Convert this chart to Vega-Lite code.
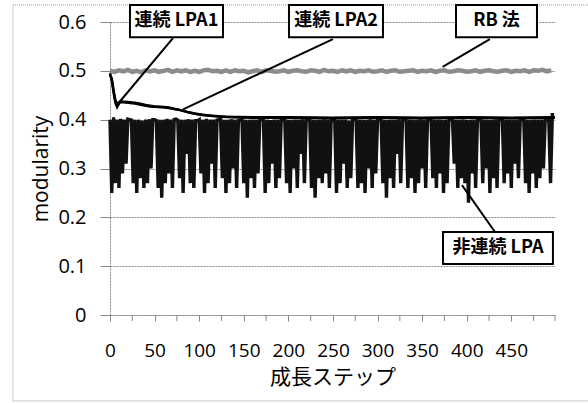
{
  "$schema": "https://vega.github.io/schema/vega-lite/v6.json",
  "width": 445,
  "height": 293,
  "autosize": "none",
  "padding": {"left": 110, "top": 22, "right": 33, "bottom": 88},
  "background": "white",
  "config": {
    "font": "Open Sans, Noto Sans CJK JP",
    "view": {"stroke": null},
    "axis": {"labelFont": "Open Sans, Noto Sans CJK JP", "titleFont": "Open Sans, Noto Sans CJK JP", "labelColor": "#000", "titleColor": "#000", "titleFontWeight": "normal"}
  },
  "datasets": {
    "rb": [
      {"s":0,"v":0.500},{"s":5,"v":0.498},{"s":10,"v":0.501},{"s":15,"v":0.499},{"s":20,"v":0.502},{"s":25,"v":0.498},{"s":30,"v":0.500},{"s":35,"v":0.497},{"s":40,"v":0.501},{"s":45,"v":0.499},
      {"s":50,"v":0.501},{"s":55,"v":0.498},{"s":60,"v":0.500},{"s":65,"v":0.502},{"s":70,"v":0.498},{"s":75,"v":0.501},{"s":80,"v":0.499},{"s":85,"v":0.501},{"s":90,"v":0.498},{"s":95,"v":0.500},
      {"s":100,"v":0.498},{"s":105,"v":0.501},{"s":110,"v":0.502},{"s":115,"v":0.499},{"s":120,"v":0.500},{"s":125,"v":0.498},{"s":130,"v":0.501},{"s":135,"v":0.498},{"s":140,"v":0.501},{"s":145,"v":0.499},
      {"s":150,"v":0.500},{"s":155,"v":0.497},{"s":160,"v":0.499},{"s":165,"v":0.501},{"s":170,"v":0.498},{"s":175,"v":0.501},{"s":180,"v":0.500},{"s":185,"v":0.498},{"s":190,"v":0.499},{"s":195,"v":0.501},
      {"s":200,"v":0.498},{"s":205,"v":0.500},{"s":210,"v":0.501},{"s":215,"v":0.499},{"s":220,"v":0.498},{"s":225,"v":0.501},{"s":230,"v":0.500},{"s":235,"v":0.498},{"s":240,"v":0.502},{"s":245,"v":0.499},
      {"s":250,"v":0.500},{"s":255,"v":0.498},{"s":260,"v":0.501},{"s":265,"v":0.499},{"s":270,"v":0.501},{"s":275,"v":0.498},{"s":280,"v":0.500},{"s":285,"v":0.499},{"s":290,"v":0.501},{"s":295,"v":0.498},
      {"s":300,"v":0.499},{"s":305,"v":0.501},{"s":310,"v":0.498},{"s":315,"v":0.500},{"s":320,"v":0.501},{"s":325,"v":0.498},{"s":330,"v":0.499},{"s":335,"v":0.500},{"s":340,"v":0.501},{"s":345,"v":0.498},
      {"s":350,"v":0.500},{"s":355,"v":0.499},{"s":360,"v":0.501},{"s":365,"v":0.498},{"s":370,"v":0.500},{"s":375,"v":0.501},{"s":380,"v":0.498},{"s":385,"v":0.499},{"s":390,"v":0.501},{"s":395,"v":0.500},
      {"s":400,"v":0.498},{"s":405,"v":0.499},{"s":410,"v":0.501},{"s":415,"v":0.498},{"s":420,"v":0.500},{"s":425,"v":0.501},{"s":430,"v":0.499},{"s":435,"v":0.498},{"s":440,"v":0.500},{"s":445,"v":0.501},
      {"s":450,"v":0.498},{"s":455,"v":0.500},{"s":460,"v":0.499},{"s":465,"v":0.501},{"s":470,"v":0.498},{"s":475,"v":0.501},{"s":480,"v":0.500},{"s":485,"v":0.502},{"s":490,"v":0.499},{"s":495,"v":0.501}
    ],
    "c1": [
      {"s":0,"v":0.495},{"s":2,"v":0.48},{"s":4,"v":0.456},{"s":6,"v":0.435},{"s":8,"v":0.426},{"s":11,"v":0.436},{"s":18,"v":0.435},{"s":28,"v":0.433},{"s":36,"v":0.43},{"s":45,"v":0.427},
      {"s":55,"v":0.426},{"s":62,"v":0.425},{"s":70,"v":0.423},{"s":78,"v":0.42},{"s":84,"v":0.417},{"s":90,"v":0.414},{"s":96,"v":0.412},{"s":101,"v":0.41},{"s":112,"v":0.408},{"s":125,"v":0.406},
      {"s":140,"v":0.405},{"s":160,"v":0.404},{"s":200,"v":0.404},{"s":250,"v":0.403},{"s":300,"v":0.404},{"s":350,"v":0.403},{"s":400,"v":0.404},{"s":450,"v":0.403},{"s":499,"v":0.404}
    ],
    "c2": [
      {"s":0,"v":0.492},{"s":2,"v":0.484},{"s":4,"v":0.46},{"s":6,"v":0.44},{"s":8,"v":0.432},{"s":12,"v":0.437},{"s":20,"v":0.436},{"s":30,"v":0.434},{"s":40,"v":0.43},{"s":50,"v":0.427},
      {"s":60,"v":0.426},{"s":66,"v":0.425},{"s":72,"v":0.422},{"s":80,"v":0.419},{"s":88,"v":0.415},{"s":96,"v":0.412},{"s":104,"v":0.41},{"s":114,"v":0.408},{"s":130,"v":0.406},{"s":160,"v":0.405},
      {"s":200,"v":0.405},{"s":250,"v":0.404},{"s":300,"v":0.405},{"s":350,"v":0.404},{"s":400,"v":0.405},{"s":450,"v":0.404},{"s":499,"v":0.405}
    ],
    "nl": [
      {"s":0,"v":0.40},{"s":2,"v":0.25},{"s":4,"v":0.405},{"s":6,"v":0.27},{"s":8,"v":0.40},{"s":10,"v":0.26},{"s":12,"v":0.402},{"s":14,"v":0.29},{"s":16,"v":0.40},{"s":18,"v":0.31},
      {"s":20,"v":0.401},{"s":22,"v":0.40},{"s":24,"v":0.399},{"s":26,"v":0.27},{"s":28,"v":0.40},{"s":30,"v":0.25},{"s":32,"v":0.40},{"s":34,"v":0.28},{"s":36,"v":0.398},{"s":38,"v":0.26},
      {"s":40,"v":0.40},{"s":42,"v":0.27},{"s":44,"v":0.401},{"s":46,"v":0.30},{"s":48,"v":0.40},{"s":50,"v":0.40},{"s":52,"v":0.398},{"s":54,"v":0.26},{"s":56,"v":0.40},{"s":58,"v":0.24},
      {"s":60,"v":0.40},{"s":62,"v":0.27},{"s":64,"v":0.402},{"s":66,"v":0.29},{"s":68,"v":0.40},{"s":70,"v":0.26},{"s":72,"v":0.40},{"s":74,"v":0.401},{"s":76,"v":0.399},{"s":78,"v":0.28},
      {"s":80,"v":0.40},{"s":82,"v":0.25},{"s":84,"v":0.40},{"s":86,"v":0.33},{"s":88,"v":0.401},{"s":90,"v":0.27},{"s":92,"v":0.40},{"s":94,"v":0.26},{"s":96,"v":0.398},{"s":98,"v":0.398},
      {"s":100,"v":0.40},{"s":102,"v":0.29},{"s":104,"v":0.40},{"s":106,"v":0.25},{"s":108,"v":0.402},{"s":110,"v":0.27},{"s":112,"v":0.40},{"s":114,"v":0.31},{"s":116,"v":0.40},{"s":118,"v":0.26},
      {"s":120,"v":0.399},{"s":122,"v":0.40},{"s":124,"v":0.40},{"s":126,"v":0.28},{"s":128,"v":0.40},{"s":130,"v":0.25},{"s":132,"v":0.40},{"s":134,"v":0.27},{"s":136,"v":0.401},{"s":138,"v":0.30},
      {"s":140,"v":0.40},{"s":142,"v":0.26},{"s":144,"v":0.398},{"s":146,"v":0.399},{"s":148,"v":0.40},{"s":150,"v":0.27},{"s":152,"v":0.40},{"s":154,"v":0.24},{"s":156,"v":0.40},{"s":158,"v":0.28},
      {"s":160,"v":0.40},{"s":162,"v":0.26},{"s":164,"v":0.40},{"s":166,"v":0.29},{"s":168,"v":0.402},{"s":170,"v":0.401},{"s":172,"v":0.40},{"s":174,"v":0.25},{"s":176,"v":0.40},{"s":178,"v":0.27},
      {"s":180,"v":0.399},{"s":182,"v":0.31},{"s":184,"v":0.40},{"s":186,"v":0.26},{"s":188,"v":0.40},{"s":190,"v":0.28},{"s":192,"v":0.401},{"s":194,"v":0.40},{"s":196,"v":0.399},{"s":198,"v":0.27},
      {"s":200,"v":0.40},{"s":202,"v":0.25},{"s":204,"v":0.40},{"s":206,"v":0.30},{"s":208,"v":0.40},{"s":210,"v":0.26},{"s":212,"v":0.40},{"s":214,"v":0.33},{"s":216,"v":0.401},{"s":218,"v":0.27},
      {"s":220,"v":0.40},{"s":222,"v":0.40},{"s":224,"v":0.399},{"s":226,"v":0.26},{"s":228,"v":0.40},{"s":230,"v":0.24},{"s":232,"v":0.40},{"s":234,"v":0.28},{"s":236,"v":0.40},{"s":238,"v":0.27},
      {"s":240,"v":0.401},{"s":242,"v":0.29},{"s":244,"v":0.40},{"s":246,"v":0.26},{"s":248,"v":0.40},{"s":250,"v":0.399},{"s":252,"v":0.401},{"s":254,"v":0.25},{"s":256,"v":0.40},{"s":258,"v":0.27},
      {"s":260,"v":0.40},{"s":262,"v":0.31},{"s":264,"v":0.40},{"s":266,"v":0.26},{"s":268,"v":0.398},{"s":270,"v":0.28},{"s":272,"v":0.40},{"s":274,"v":0.40},{"s":276,"v":0.401},{"s":278,"v":0.26},
      {"s":280,"v":0.40},{"s":282,"v":0.27},{"s":284,"v":0.40},{"s":286,"v":0.25},{"s":288,"v":0.40},{"s":290,"v":0.30},{"s":292,"v":0.401},{"s":294,"v":0.26},{"s":296,"v":0.40},{"s":298,"v":0.29},
      {"s":300,"v":0.40},{"s":302,"v":0.40},{"s":304,"v":0.399},{"s":306,"v":0.27},{"s":308,"v":0.40},{"s":310,"v":0.24},{"s":312,"v":0.40},{"s":314,"v":0.28},{"s":316,"v":0.40},{"s":318,"v":0.26},
      {"s":320,"v":0.40},{"s":322,"v":0.33},{"s":324,"v":0.401},{"s":326,"v":0.27},{"s":328,"v":0.40},{"s":330,"v":0.40},{"s":332,"v":0.40},{"s":334,"v":0.26},{"s":336,"v":0.40},{"s":338,"v":0.28},
      {"s":340,"v":0.40},{"s":342,"v":0.25},{"s":344,"v":0.40},{"s":346,"v":0.27},{"s":348,"v":0.401},{"s":350,"v":0.30},{"s":352,"v":0.40},{"s":354,"v":0.26},{"s":356,"v":0.399},{"s":358,"v":0.40},
      {"s":360,"v":0.401},{"s":362,"v":0.28},{"s":364,"v":0.40},{"s":366,"v":0.26},{"s":368,"v":0.40},{"s":370,"v":0.29},{"s":372,"v":0.40},{"s":374,"v":0.25},{"s":376,"v":0.40},{"s":378,"v":0.27},
      {"s":380,"v":0.40},{"s":382,"v":0.40},{"s":384,"v":0.40},{"s":386,"v":0.31},{"s":388,"v":0.40},{"s":390,"v":0.26},{"s":392,"v":0.40},{"s":394,"v":0.28},{"s":396,"v":0.401},{"s":398,"v":0.27},
      {"s":400,"v":0.40},{"s":402,"v":0.23},{"s":404,"v":0.40},{"s":406,"v":0.29},{"s":408,"v":0.40},{"s":410,"v":0.26},{"s":412,"v":0.399},{"s":414,"v":0.399},{"s":416,"v":0.40},{"s":418,"v":0.27},
      {"s":420,"v":0.40},{"s":422,"v":0.30},{"s":424,"v":0.40},{"s":426,"v":0.25},{"s":428,"v":0.40},{"s":430,"v":0.28},{"s":432,"v":0.401},{"s":434,"v":0.26},{"s":436,"v":0.40},{"s":438,"v":0.40},
      {"s":440,"v":0.40},{"s":442,"v":0.27},{"s":444,"v":0.40},{"s":446,"v":0.29},{"s":448,"v":0.40},{"s":450,"v":0.26},{"s":452,"v":0.40},{"s":454,"v":0.31},{"s":456,"v":0.40},{"s":458,"v":0.28},
      {"s":460,"v":0.40},{"s":462,"v":0.40},{"s":464,"v":0.399},{"s":466,"v":0.27},{"s":468,"v":0.40},{"s":470,"v":0.25},{"s":472,"v":0.40},{"s":474,"v":0.29},{"s":476,"v":0.40},{"s":478,"v":0.26},
      {"s":480,"v":0.40},{"s":482,"v":0.28},{"s":484,"v":0.40},{"s":486,"v":0.30},{"s":488,"v":0.399},{"s":490,"v":0.40},{"s":492,"v":0.40},{"s":494,"v":0.27},{"s":496,"v":0.41},{"s":498,"v":0.41}
    ],
    "boxes": [
      {"label":"連続 LPA1","x1":22.4,"x2":126.7,"y1":0.569,"y2":0.635,"tx":74.5,"ty":0.602},
      {"label":"連続 LPA2","x1":200.7,"x2":306.1,"y1":0.569,"y2":0.635,"tx":253.4,"ty":0.602},
      {"label":"RB 法","x1":388,"x2":478.8,"y1":0.569,"y2":0.635,"tx":433.4,"ty":0.602},
      {"label":"非連続 LPA","x1":373.4,"x2":496.7,"y1":0.1044,"y2":0.170,"tx":435,"ty":0.137}
    ],
    "leaders": [
      {"x1":70.6,"y1":0.567,"x2":7.8,"y2":0.430},
      {"x1":250,"y1":0.565,"x2":81.9,"y2":0.421},
      {"x1":426,"y1":0.565,"x2":373,"y2":0.508},
      {"x1":431.7,"y1":0.170,"x2":394.7,"y2":0.266}
    ],
    "minorticks": [
      {"s":25,"a":0,"b":-0.0123},{"s":75,"a":0,"b":-0.0123},{"s":125,"a":0,"b":-0.0123},{"s":175,"a":0,"b":-0.0123},{"s":225,"a":0,"b":-0.0123},
      {"s":275,"a":0,"b":-0.0123},{"s":325,"a":0,"b":-0.0123},{"s":375,"a":0,"b":-0.0123},{"s":425,"a":0,"b":-0.0123},{"s":475,"a":0,"b":-0.0123},{"s":499,"a":0,"b":-0.0123}
    ],
    "frame": [
      {"x1":-108.8,"x2":538,"y1":-0.176,"y2":0.6348}
    ]
  },
  "layer": [
    {
      "data": {"name": "frame"},
      "mark": {"type": "rect", "filled": false, "stroke": "#999999", "strokeWidth": 1, "strokeDash": [1, 1]},
      "encoding": {
        "x": {"field": "x1", "type": "quantitative", "scale": {"domain": [0, 499], "nice": false, "zero": false},
          "axis": {"values": [0,50,100,150,200,250,300,350,400,450],
            "labelFontSize": 19, "labelPadding": 20, "labelAngle": 0,
            "labelOverlap": false, "labelFlush": false,
            "tickSize": 6, "tickColor": "#888888", "domainColor": "#888888", "domainDash": [2, 1], "grid": false,
            "title": "成長ステップ", "titleFontSize": 21, "titlePadding": 6}},
        "x2": {"field": "x2"},
        "y": {"field": "y1", "type": "quantitative", "scale": {"domain": [0, 0.6], "nice": false, "zero": false},
          "axis": {"values": [0,0.1,0.2,0.3,0.4,0.5,0.6], "labelExpr": "datum.value == 0 ? '0' : format(datum.value, '.1f')",
            "labelFontSize": 20, "labelPadding": 14, "tickSize": 10, "tickColor": "#888888", "domainColor": "#888888", "domainDash": [2, 1],
            "grid": true, "gridColor": "#888888", "gridDash": [2, 1], "gridWidth": 1,
            "title": "modularity", "titleFontSize": 21, "titlePadding": 6}},
        "y2": {"field": "y2"}
      }
    },
    {
      "data": {"name": "minorticks"},
      "mark": {"type": "rule", "color": "#888888", "strokeWidth": 1},
      "encoding": {"x": {"field": "s", "type": "quantitative"}, "y": {"field": "a", "type": "quantitative"}, "y2": {"field": "b"}}
    },
    {
      "data": {"name": "rb"},
      "mark": {"type": "line", "color": "#8c8c8c", "strokeWidth": 4.5},
      "encoding": {"x": {"field": "s", "type": "quantitative"}, "y": {"field": "v", "type": "quantitative"}}
    },
    {
      "data": {"name": "nl"},
      "mark": {"type": "line", "color": "#111111", "strokeWidth": 3.4},
      "encoding": {"x": {"field": "s", "type": "quantitative"}, "y": {"field": "v", "type": "quantitative"}}
    },
    {
      "data": {"name": "c2"},
      "mark": {"type": "line", "color": "#000000", "strokeWidth": 2.5},
      "encoding": {"x": {"field": "s", "type": "quantitative"}, "y": {"field": "v", "type": "quantitative"}}
    },
    {
      "data": {"name": "c1"},
      "mark": {"type": "line", "color": "#000000", "strokeWidth": 2.5},
      "encoding": {"x": {"field": "s", "type": "quantitative"}, "y": {"field": "v", "type": "quantitative"}}
    },
    {
      "data": {"name": "leaders"},
      "mark": {"type": "rule", "color": "#000000", "strokeWidth": 2},
      "encoding": {"x": {"field": "x1", "type": "quantitative"}, "y": {"field": "y1", "type": "quantitative"}, "x2": {"field": "x2"}, "y2": {"field": "y2"}}
    },
    {
      "data": {"name": "boxes"},
      "mark": {"type": "rect", "fill": "white", "stroke": "#000000", "strokeWidth": 2},
      "encoding": {"x": {"field": "x1", "type": "quantitative"}, "x2": {"field": "x2"}, "y": {"field": "y1", "type": "quantitative"}, "y2": {"field": "y2"}}
    },
    {
      "data": {"name": "boxes"},
      "mark": {"type": "text", "font": "Noto Sans CJK JP", "fontSize": 18, "fontWeight": "bold", "color": "#000000", "align": "center", "baseline": "middle"},
      "encoding": {"x": {"field": "tx", "type": "quantitative"}, "y": {"field": "ty", "type": "quantitative"}, "text": {"field": "label"}}
    }
  ]
}
